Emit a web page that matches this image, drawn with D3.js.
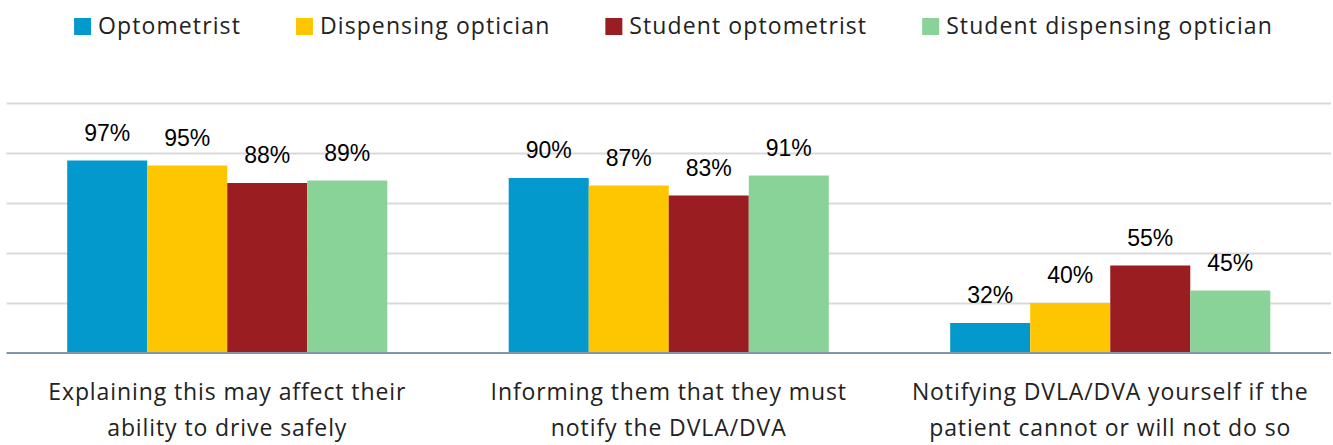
<!DOCTYPE html>
<html>
<head>
<meta charset="utf-8">
<script src="https://cdn.jsdelivr.net/npm/d3@7"></script>
<style>
  html, body { margin: 0; padding: 0; background: #fff; }
  svg { display: block; }
</style>
</head>
<body>
<svg id="chart" width="1333" height="445"></svg>
<script>
// Survey categories (each split into its two display lines)
const categories = [
  ["Explaining this may affect their", "ability to drive safely"],
  ["Informing them that they must", "notify the DVLA/DVA"],
  ["Notifying DVLA/DVA yourself if the", "patient cannot or will not do so"]
];
const seriesNames = ["Optometrist", "Dispensing optician", "Student optometrist", "Student dispensing optician"];
const seriesColors = ["#0399cc", "#fec601", "#9a1d21", "#89d399"];

// Percentages per series, one value per category
const optometrist = [97, 90, 32];
const dispensingOptician = [95, 87, 40];
const studentOptometrist = [88, 83, 55];
const studentDispensingOptician = [89, 91, 45];

const axisTicks = [20, 40, 60, 80, 100, 120];

const seriesValues = [optometrist, dispensingOptician, studentOptometrist, studentDispensingOptician];

const svg = d3.select("#chart");
const plot = { left: 6.5, right: 1331, top: 103, bottom: 353 };

const x0 = d3.scaleBand()
  .domain(d3.range(categories.length))
  .range([plot.left, plot.right])
  .paddingInner(0.275)
  .paddingOuter(0.1375);

const x1 = d3.scaleBand()
  .domain(d3.range(seriesNames.length))
  .range([0, x0.bandwidth()]);

const y = d3.scaleLinear()
  .domain([axisTicks[0], axisTicks[axisTicks.length - 1]])
  .range([plot.bottom, plot.top]);

// Horizontal gridlines
const grid = svg.append("g")
  .attr("transform", `translate(${plot.left},0)`)
  .call(d3.axisLeft(y)
    .tickValues(axisTicks.slice(1))
    .tickSize(-(plot.right - plot.left))
    .tickFormat(""));
grid.select(".domain").remove();
grid.selectAll(".tick line").attr("stroke", "#d9d9d9").attr("stroke-width", 2);

// Bars
const groups = svg.append("g").selectAll("g")
  .data(categories)
  .join("g")
  .attr("transform", (d, i) => `translate(${x0(i)},0)`);

groups.selectAll("rect")
  .data((d, ci) => seriesValues.map((vals, si) => ({ si, v: vals[ci] })))
  .join("rect")
  .attr("x", d => x1(d.si))
  .attr("width", x1.bandwidth())
  .attr("y", d => y(d.v))
  .attr("height", d => y(axisTicks[0]) - y(d.v))
  .attr("fill", d => seriesColors[d.si]);

// Value labels
groups.selectAll("text.val")
  .data((d, ci) => seriesValues.map((vals, si) => ({ si, v: vals[ci] })))
  .join("text")
  .attr("class", "val")
  .attr("x", d => x1(d.si) + x1.bandwidth() / 2)
  .attr("y", d => y(d.v) - 20)
  .attr("text-anchor", "middle")
  .attr("font-family", "'Liberation Sans', Arial, sans-serif")
  .attr("font-size", 23)
  .attr("fill", "#000")
  .text(d => d.v + "%");

// Baseline
const base = svg.append("g")
  .attr("transform", `translate(0,${y(axisTicks[0])})`)
  .call(d3.axisBottom(x0).tickSize(0).tickFormat(""));
base.select(".domain")
  .attr("d", `M${plot.left},0H${plot.right}`)
  .attr("stroke", "#8394a6")
  .attr("stroke-width", 2);

// Category labels
const labelFont = "'Open Sans', 'Noto Sans', sans-serif";
svg.append("g").selectAll("text")
  .data(categories)
  .join("text")
  .attr("x", (d, i) => x0(i) + x0.bandwidth() / 2)
  .attr("y", 400)
  .attr("text-anchor", "middle")
  .attr("font-family", labelFont)
  .attr("font-size", 23)
  .attr("letter-spacing", 0.9)
  .attr("fill", "#222")
  .selectAll("tspan")
  .data(d => d)
  .join("tspan")
  .attr("x", function () { return this.parentNode.getAttribute("x"); })
  .attr("dy", (d, i) => i === 0 ? 0 : 36)
  .text(d => d);

// Legend, laid out in a row and centred
const legend = svg.append("g");
const items = legend.selectAll("g")
  .data(seriesNames)
  .join("g");
items.append("rect")
  .attr("y", 18)
  .attr("width", 17)
  .attr("height", 17)
  .attr("fill", (d, i) => seriesColors[i]);
items.append("text")
  .attr("x", 24)
  .attr("y", 34)
  .attr("font-family", labelFont)
  .attr("font-size", 23)
  .attr("letter-spacing", 1.1)
  .attr("fill", "#222")
  .text(d => d);

let cursor = 0;
items.each(function () {
  const g = d3.select(this);
  const w = g.select("text").node().getComputedTextLength();
  g.attr("transform", `translate(${cursor},0)`);
  cursor += 24 + w + 55;
});
const total = cursor - 55;
legend.attr("transform", `translate(${673.5 - total / 2},0)`);
</script>
</body>
</html>
